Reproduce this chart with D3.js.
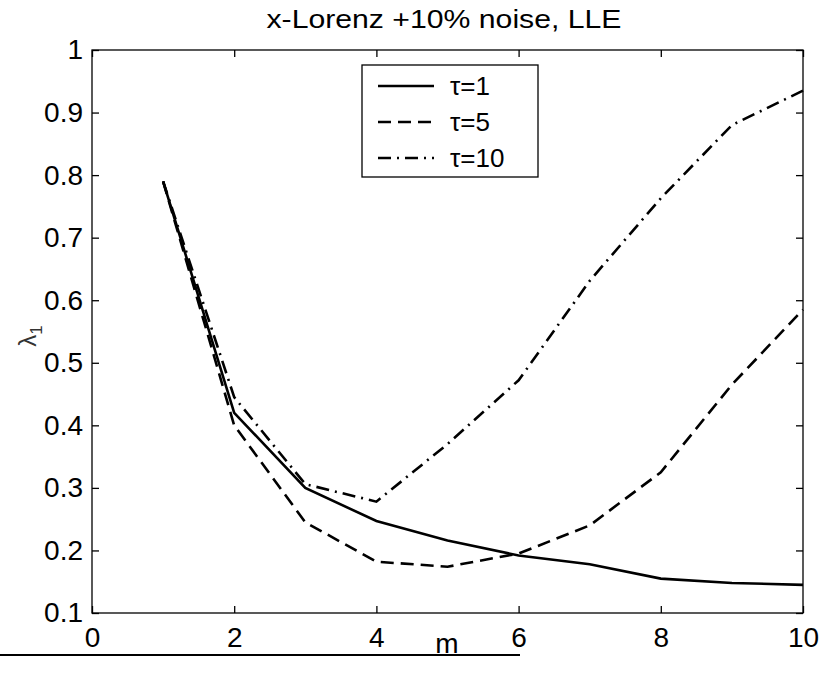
<!DOCTYPE html>
<html><head><meta charset="utf-8">
<script src="https://cdn.jsdelivr.net/npm/d3@7"></script>
<style>body{margin:0;background:#fff}svg{display:block}text{font-family:"Liberation Sans",Arial,sans-serif}</style>
</head><body>
<svg id="c" width="833" height="683"></svg>
<script>
const mValues = [1,2,3,4,5,6,7,8,9,10];
const tau1 = [0.79,0.42,0.30,0.247,0.216,0.192,0.178,0.155,0.148,0.145];
const tau5 = [0.79,0.40,0.245,0.182,0.174,0.195,0.24,0.325,0.465,0.585];
const tau10 = [0.79,0.445,0.306,0.278,0.37,0.472,0.631,0.763,0.88,0.935];
const seriesNames = ["\u03c4=1","\u03c4=5","\u03c4=10"];
const xTicks = [0,2,4,6,8,10];
const yTicks = [0.1,0.2,0.3,0.4,0.5,0.6,0.7,0.8,0.9,1];
const dashes = [null,"13,7","13,6,2,6"];

const svg = d3.select("#c");
const L=92,R=803,T=50,B=613;
const x = d3.scaleLinear().domain([0,10]).range([L,R]);
const y = d3.scaleLinear().domain([0.1,1]).range([B,T]);

svg.append("rect").attr("x",L).attr("y",T).attr("width",R-L).attr("height",B-T)
  .attr("fill","none").attr("stroke","#000").attr("stroke-width",1.3);

const fmt = d => d===1?"1":d3.format(".1f")(d);
const xb = svg.append("g").attr("transform",`translate(0,${B})`)
  .call(d3.axisBottom(x).tickValues(xTicks).tickSize(-7).tickPadding(14).tickFormat(d3.format("d")));
const xt = svg.append("g").attr("transform",`translate(0,${T})`)
  .call(d3.axisTop(x).tickValues(xTicks).tickSize(-7).tickFormat(""));
const yl = svg.append("g").attr("transform",`translate(${L},0)`)
  .call(d3.axisLeft(y).tickValues(yTicks).tickSize(-7).tickPadding(9).tickFormat(fmt));
const yr = svg.append("g").attr("transform",`translate(${R},0)`)
  .call(d3.axisRight(y).tickValues(yTicks).tickSize(-7).tickFormat(""));
[xb,xt,yl,yr].forEach(g=>{
  g.select(".domain").remove();
  g.selectAll("line").attr("stroke","#000").attr("stroke-width",1.3);
  g.selectAll("text").attr("font-size",28).attr("fill","#000")
    .attr("font-family","'Liberation Sans',Arial,sans-serif");
});

const line = d3.line().x((d,i)=>x(mValues[i])).y(d=>y(d));
[tau1,tau5,tau10].forEach((s,k)=>{
  svg.append("path").datum(s).attr("d",line).attr("fill","none")
    .attr("stroke","#000").attr("stroke-width",2.6)
    .attr("stroke-dasharray",dashes[k]);
});

// legend
const lg = svg.append("g");
lg.append("rect").attr("x",362).attr("y",65).attr("width",176).attr("height",112)
  .attr("fill","#fff").attr("stroke","#000").attr("stroke-width",1.3);
seriesNames.forEach((n,k)=>{
  const yy = 86 + k*36;
  lg.append("line").attr("x1",378).attr("x2",434).attr("y1",yy).attr("y2",yy)
    .attr("stroke","#000").attr("stroke-width",2.4).attr("stroke-dasharray",dashes[k]);
  lg.append("text").attr("x",450).attr("y",yy).attr("dy","0.36em")
    .attr("font-size",26).text(n);
});

// title & labels
svg.append("text").attr("x",444).attr("y",28).attr("text-anchor","middle")
  .attr("font-size",25).attr("textLength",355).attr("lengthAdjust","spacingAndGlyphs")
  .text("x-Lorenz +10% noise, LLE");
svg.append("text").attr("x",447).attr("y",653).attr("text-anchor","middle")
  .attr("font-size",28).text("m");
const yLab = svg.append("text").attr("transform","translate(36,336) rotate(-90)")
  .attr("text-anchor","middle").attr("font-size",24).attr("fill","#333");
yLab.append("tspan").text("\u03bb");
yLab.append("tspan").attr("font-size",17).attr("dy",6).text("1");

svg.append("line").attr("x1",0).attr("x2",520).attr("y1",655).attr("y2",655)
  .attr("stroke","#000").attr("stroke-width",2);
</script>
</body></html>
